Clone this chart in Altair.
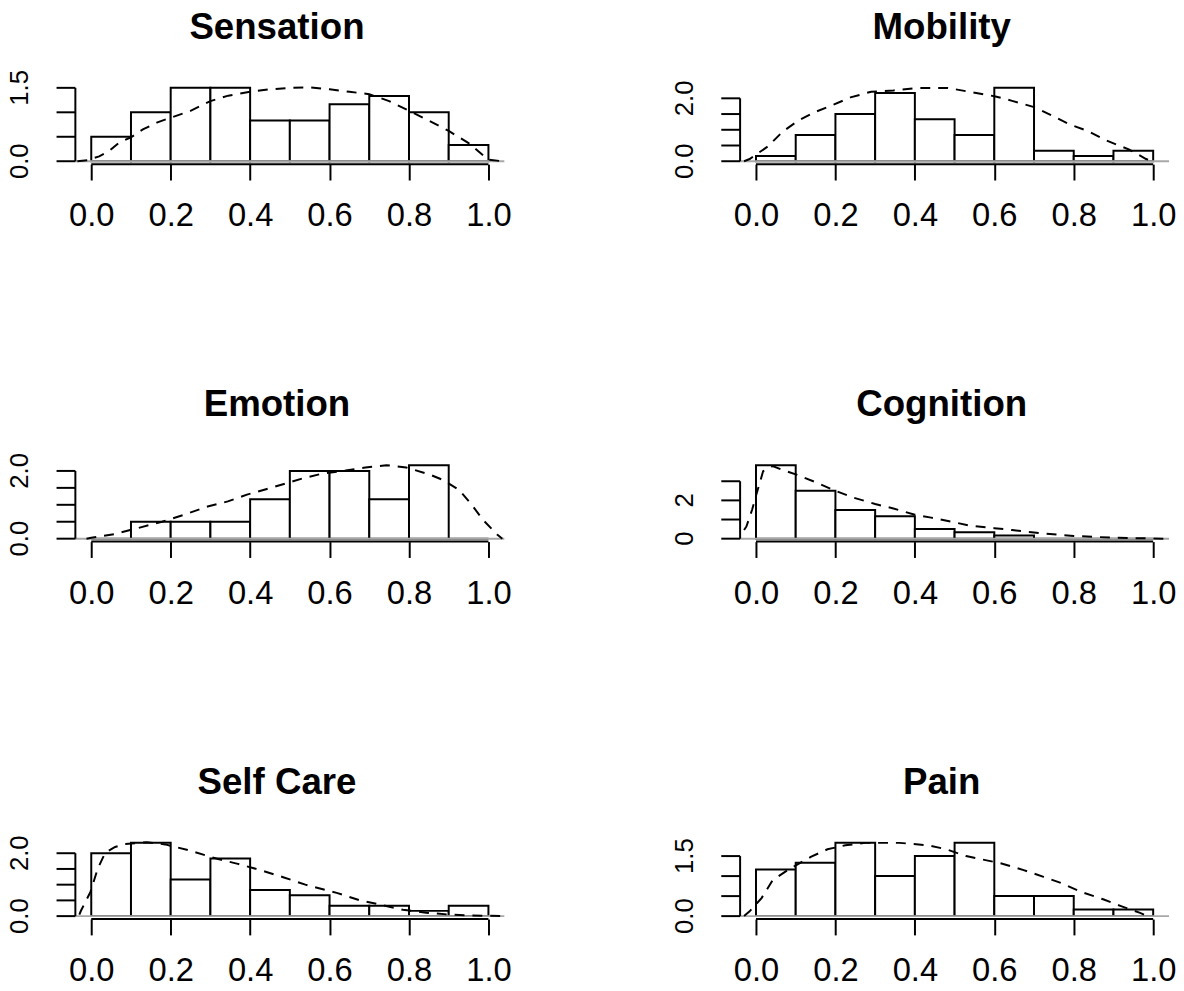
import altair as alt
import pandas as pd

FONT = "Liberation Sans"

# ---------------- data ----------------
TITLES = ["Sensation", "Mobility", "Emotion", "Cognition", "Self Care", "Pain"]
N_OBS = 60
BIN_EDGES = [0.0, 0.1, 0.2, 0.3, 0.4, 0.5, 0.6, 0.7, 0.8, 0.9, 1.0]
X_TICKS = [0.0, 0.2, 0.4, 0.6, 0.8, 1.0]

# histogram counts per bin (0-0.1, ..., 0.9-1.0)
sensation_counts = [3, 6, 9, 9, 5, 5, 7, 8, 6, 2]
mobility_counts = [1, 5, 9, 13, 8, 5, 14, 2, 1, 2]
emotion_counts = [0, 3, 3, 3, 7, 12, 12, 7, 13, 0]
cognition_counts = [23, 15, 9, 7, 3, 2, 1, 0, 0, 0]
selfcare_counts = [12, 14, 7, 11, 5, 4, 2, 2, 1, 2]
pain_counts = [7, 8, 11, 6, 9, 11, 3, 3, 1, 1]

# dashed density curves (x, density)
sensation_dx = [-0.035, -0.01, 0.02, 0.045, 0.07, 0.1, 0.13, 0.165, 0.2, 0.25, 0.3, 0.345, 0.4,
                0.45, 0.5, 0.55, 0.6, 0.65, 0.7, 0.75, 0.8, 0.85, 0.9, 0.95, 1.0, 1.035]
sensation_dy = [0.0, 0.02, 0.1, 0.21, 0.38, 0.49, 0.65, 0.79, 0.89, 1.03, 1.23, 1.34, 1.42,
                1.47, 1.5, 1.51, 1.47, 1.42, 1.37, 1.23, 1.03, 0.83, 0.62, 0.37, 0.03, 0.0]

mobility_dx = [-0.03, -0.016, 0.03, 0.067, 0.105, 0.146, 0.188, 0.238, 0.29, 0.346, 0.408, 0.483,
               0.545, 0.603, 0.645, 0.703, 0.745, 0.79, 0.836, 0.882, 0.94, 0.982, 1.0]
mobility_dy = [0.0, 0.07, 0.47, 0.94, 1.28, 1.55, 1.76, 2.03, 2.21, 2.25, 2.33, 2.33,
               2.19, 2.06, 1.92, 1.71, 1.45, 1.17, 0.96, 0.66, 0.37, 0.07, 0.0]

emotion_dx = [-0.012, 0.0, 0.057, 0.11, 0.178, 0.232, 0.293, 0.344, 0.392, 0.44, 0.49, 0.535,
              0.585, 0.64, 0.69, 0.743, 0.793, 0.851, 0.886, 0.926, 0.958, 0.986, 1.022, 1.035]
emotion_dy = [0.0, 0.03, 0.13, 0.29, 0.5, 0.7, 0.95, 1.1, 1.3, 1.46, 1.63, 1.79,
              1.93, 2.01, 2.1, 2.17, 2.1, 1.9, 1.73, 1.44, 1.0, 0.56, 0.12, 0.0]

cognition_dx = [-0.03, -0.024, -0.01, 0.0, 0.018, 0.042, 0.063, 0.1, 0.15, 0.2, 0.246, 0.3,
                0.346, 0.4, 0.441, 0.5, 0.537, 0.6, 0.645, 0.7, 0.74, 0.8, 0.9, 1.0, 1.03]
cognition_dy = [0.45, 0.64, 1.5, 2.24, 3.53, 3.79, 3.62, 3.36, 2.95, 2.5, 2.14, 1.81,
                1.58, 1.25, 1.1, 0.85, 0.69, 0.55, 0.45, 0.32, 0.24, 0.14, 0.05, 0.01, 0.0]

selfcare_dx = [-0.03, -0.026, -0.002, 0.016, 0.035, 0.06, 0.085, 0.14, 0.186, 0.244, 0.315, 0.369,
               0.427, 0.485, 0.539, 0.618, 0.677, 0.726, 0.785, 0.843, 0.9, 0.96, 1.0, 1.03]
selfcare_dy = [0.05, 0.17, 0.77, 1.5, 2.01, 2.2, 2.29, 2.35, 2.28, 2.1, 1.83, 1.66,
               1.46, 1.23, 1.0, 0.74, 0.5, 0.37, 0.2, 0.11, 0.05, 0.02, 0.01, 0.0]

pain_dx = [-0.03, -0.016, 0.014, 0.042, 0.08, 0.138, 0.18, 0.225, 0.275, 0.362, 0.433, 0.479,
           0.529, 0.616, 0.674, 0.724, 0.77, 0.82, 0.874, 0.919, 0.967, 0.985]
pain_dy = [0.0, 0.12, 0.45, 0.9, 1.15, 1.48, 1.67, 1.77, 1.83, 1.83, 1.77, 1.67,
           1.5, 1.32, 1.15, 0.98, 0.82, 0.6, 0.42, 0.25, 0.08, 0.0]

# y-axis ticks and the labels that are shown
y_ticks = [
    [0.0, 0.5, 1.0, 1.5],
    [0.0, 0.5, 1.0, 1.5, 2.0],
    [0.0, 0.5, 1.0, 1.5, 2.0],
    [0.0, 1.0, 2.0, 3.0],
    [0.0, 0.5, 1.0, 1.5, 2.0],
    [0.0, 0.5, 1.0, 1.5],
]
y_label_values = [[0.0, 1.5], [0.0, 2.0], [0.0, 2.0], [0.0, 2.0], [0.0, 2.0], [0.0, 1.5]]
y_label_texts = [["0.0", "1.5"], ["0.0", "2.0"], ["0.0", "2.0"], ["0", "2"], ["0.0", "2.0"], ["0.0", "1.5"]]

COUNTS = [sensation_counts, mobility_counts, emotion_counts, cognition_counts, selfcare_counts, pain_counts]
DENS_X = [sensation_dx, mobility_dx, emotion_dx, cognition_dx, selfcare_dx, pain_dx]
DENS_Y = [sensation_dy, mobility_dy, emotion_dy, cognition_dy, selfcare_dy, pain_dy]

BIN_WIDTH = 0.1
X_LO, X_HI = -0.04, 1.04
PANEL_W, PANEL_H = 433, 80


def panel(i):
    counts = COUNTS[i]
    heights = [c / (N_OBS * BIN_WIDTH) for c in counts]
    ymax = max(heights)
    ylo, yhi = -0.04 * ymax, 1.04 * ymax

    xs = alt.Scale(domain=[X_LO, X_HI], nice=False, zero=False)
    ys = alt.Scale(domain=[ylo, yhi], nice=False, zero=False)

    bars_df = pd.DataFrame({"x0": BIN_EDGES[:-1], "x1": BIN_EDGES[1:], "h": heights,
                            "base": [0.0] * len(heights)})
    dens_df = pd.DataFrame({"x": DENS_X[i], "d": DENS_Y[i]})
    zero_df = pd.DataFrame({"a": [X_LO], "b": [X_HI], "y": [0.0]})
    xaxis_df = pd.DataFrame({"a": [X_TICKS[0]], "b": [X_TICKS[-1]], "y": [ylo]})
    yaxis_df = pd.DataFrame({"x": [X_LO], "y0": [y_ticks[i][0]], "y1": [y_ticks[i][-1]]})
    ytick_df = pd.DataFrame({"t": y_ticks[i]})
    ylab_df = pd.DataFrame({"t": y_label_values[i], "lab": y_label_texts[i]})

    x_axis = alt.Axis(orient="bottom", values=X_TICKS, format=".1f", title=None, grid=False,
                      domain=False, tickSize=16, tickWidth=2, tickColor="black",
                      labelFontSize=33, labelFont=FONT, labelColor="black", labelPadding=20,
                      labelFlush=False, labelOverlap=False)
    top_axis = alt.Axis(orient="top", title=TITLES[i], labels=False, ticks=False, domain=False,
                        grid=False, titleFontSize=37, titleFont=FONT, titleFontWeight="bold",
                        titleColor="black", titleX=203, titleY=-47, titleAlign="center",
                        titleBaseline="alphabetic")

    bars = alt.Chart(bars_df).mark_rect(fill="white", stroke="black", strokeWidth=2).encode(
        x=alt.X("x0:Q", scale=xs, axis=x_axis),
        x2="x1:Q",
        y=alt.Y("h:Q", scale=ys, axis=None),
        y2="base:Q",
    )
    zero_line = alt.Chart(zero_df).mark_rule(color="#a8a8a8", strokeWidth=2).encode(
        x=alt.X("a:Q", scale=xs, axis=top_axis),
        x2="b:Q",
        y=alt.Y("y:Q", scale=ys, axis=None),
    )
    dens = alt.Chart(dens_df).mark_line(color="black", strokeWidth=2, strokeDash=[10, 8]).encode(
        x=alt.X("x:Q", scale=xs, axis=None),
        y=alt.Y("d:Q", scale=ys, axis=None),
    )
    x_line = alt.Chart(xaxis_df).mark_rule(color="black", strokeWidth=2).encode(
        x=alt.X("a:Q", scale=xs, axis=None),
        x2="b:Q",
        y=alt.Y("y:Q", scale=ys, axis=None),
    )
    y_line = alt.Chart(yaxis_df).mark_rule(color="black", strokeWidth=2).encode(
        x=alt.X("x:Q", scale=xs, axis=None),
        y=alt.Y("y0:Q", scale=ys, axis=None),
        y2="y1:Q",
    )
    y_tick_marks = alt.Chart(ytick_df).mark_rule(color="black", strokeWidth=2).encode(
        y=alt.Y("t:Q", scale=ys, axis=None),
        x=alt.value(-19),
        x2=alt.value(0),
    )
    y_tick_labels = alt.Chart(ylab_df).mark_text(
        angle=270, align="center", baseline="alphabetic", fontSize=26, font=FONT, color="black"
    ).encode(
        y=alt.Y("t:Q", scale=ys, axis=None),
        x=alt.value(-48),
        text="lab:N",
    )
    return alt.layer(bars, zero_line, dens, x_line, y_line, y_tick_marks, y_tick_labels).properties(
        width=PANEL_W, height=PANEL_H)


chart = alt.concat(
    *[panel(i) for i in range(6)],
    columns=2,
    spacing={"row": 301, "column": 238},
    bounds="flush",
).properties(
    padding={"left": -1, "top": -4, "right": 0, "bottom": 0},
    background="white",
).configure_view(strokeWidth=0)

chart.save("out.html", embed_options={"renderer": "svg", "actions": False})
